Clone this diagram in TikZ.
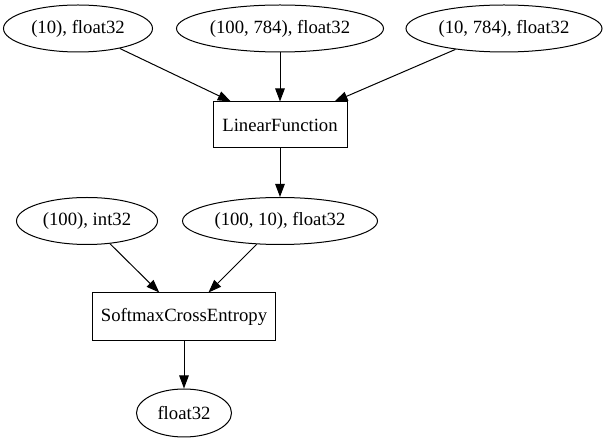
\documentclass[tikz,border=0pt]{standalone}
\usepackage{fontspec}
\setmainfont{Liberation Serif}
\usetikzlibrary{shapes.geometric,arrows.meta}
\begin{document}
\begin{tikzpicture}[x=1pt,y=-1pt,
  every node/.style={font=\fontsize{18.7}{22}\selectfont, inner sep=0pt, line width=1pt},
  var/.style={draw, ellipse, minimum height=47pt},
  func/.style={draw, rectangle, minimum height=46pt},
  flow/.style={draw, line width=1pt, -{Triangle[length=13pt,width=9.5pt]}}]
  \useasboundingbox (0,0) rectangle (608,443);
  % inputs of the linear layer
  \node[var, minimum width=149pt] (b)  at (78,28.5)  {(10), float32};
  \node[var, minimum width=207pt] (x)  at (280,28.5) {(100, 784), float32};
  \node[var, minimum width=196pt] (w)  at (504,28.5) {(10, 784), float32};
  \node[func, minimum width=134pt] (lin) at (280,125) {LinearFunction};
  % loss inputs
  \node[var, minimum width=141pt] (t)  at (87,221)   {(100), int32};
  \node[var, minimum width=195pt] (y)  at (280,221)  {(100, 10), float32};
  \node[func, minimum width=183pt, minimum height=48pt] (sce) at (184,317) {SoftmaxCrossEntropy};
  \node[var, minimum width=95pt, minimum height=48pt] (loss) at (184,413) {float32};
  \draw[flow] (b) -- (lin);
  \draw[flow] (x) -- (lin);
  \draw[flow] (w) -- (lin);
  \draw[flow] (lin) -- (y);
  \draw[flow] (t) -- (sce);
  \draw[flow] (y) -- (sce);
  \draw[flow] (sce) -- (loss);
\end{tikzpicture}
\end{document}
